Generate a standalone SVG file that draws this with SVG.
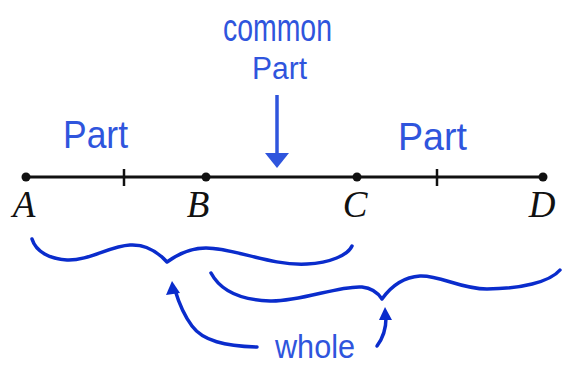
<svg xmlns="http://www.w3.org/2000/svg" width="565" height="371" viewBox="0 0 565 371">
<style>
.pt{fill:#111}
.tick{stroke:#111;stroke-width:2.5}
.lbl{font-family:"Liberation Serif",serif;font-style:italic;font-size:37px;fill:#111;text-anchor:middle}
.hw{font-family:"Liberation Sans",Arial,sans-serif;fill:#2f55dd}
.br{fill:none;stroke:#0a2ccc;stroke-width:3.5;stroke-linecap:round;stroke-linejoin:round}
.ah{fill:#0a2ccc}
.ahl{fill:#2f55dd}
</style>
<rect width="565" height="371" fill="#fff"/>
<g id="segment">
<line x1="26" y1="177" x2="543" y2="177" stroke="#111" stroke-width="3"/>
<line class="tick" x1="124" y1="169" x2="124" y2="186"/>
<line class="tick" x1="437" y1="169" x2="437" y2="186"/>
</g>
<g id="A"><circle class="pt" cx="26" cy="177" r="4.5"/><text class="lbl" x="24" y="217">A</text></g>
<g id="B"><circle class="pt" cx="206" cy="177" r="4.5"/><text class="lbl" x="198" y="217">B</text></g>
<g id="C"><circle class="pt" cx="357" cy="177" r="4.5"/><text class="lbl" x="355" y="217">C</text></g>
<g id="D"><circle class="pt" cx="543" cy="177" r="4.5"/><text class="lbl" x="542" y="217">D</text></g>
<g id="part-left"><text class="hw" transform="translate(63,148) scale(1,1.2)" font-size="32" textLength="65" lengthAdjust="spacingAndGlyphs">Part</text></g>
<g id="part-right"><text class="hw" transform="translate(398,150) scale(1,1.2)" font-size="32" textLength="69" lengthAdjust="spacingAndGlyphs">Part</text></g>
<g id="common-part">
<text class="hw" transform="translate(223,41) scale(1,1.15)" font-size="34" textLength="109" lengthAdjust="spacingAndGlyphs">common</text>
<text class="hw" x="252" y="79" font-size="31" textLength="55" lengthAdjust="spacingAndGlyphs">Part</text>
</g>
<g id="whole"><text class="hw" transform="translate(275,358) scale(1,1.1)" font-size="31" textLength="80" lengthAdjust="spacingAndGlyphs">whole</text></g>
<g id="connectors">
<path class="br" d="M32,239 C36,252 50,259 67,260 C88,261 110,246 130,245 C147,244 158,252 167,262 C178,254 190,248 206,248 C235,248 270,266 307,264 C330,263 348,255 352,246"/>
<path class="br" d="M211,273 C220,290 240,300 270,301 C300,302 340,285 362,287 C372,288 378,293 382,299 C392,285 405,277 420,276 C440,275 460,289 487,289 C520,289 550,282 560,270"/>
<line x1="277" y1="95" x2="277" y2="158" stroke="#2f55dd" stroke-width="3.5"/>
<polygon class="ahl" points="265,153 289,153 277,168"/>
<path class="br" d="M257,347 C225,346 203,341 192,326 C183,314 178,300 175,290"/>
<polygon class="ah" points="172,281 166,295 180,293"/>
<path class="br" d="M377,346 C383,338 386,328 386,318"/>
<polygon class="ah" points="385,307 379,320 392,320"/>
</g>
</svg>
